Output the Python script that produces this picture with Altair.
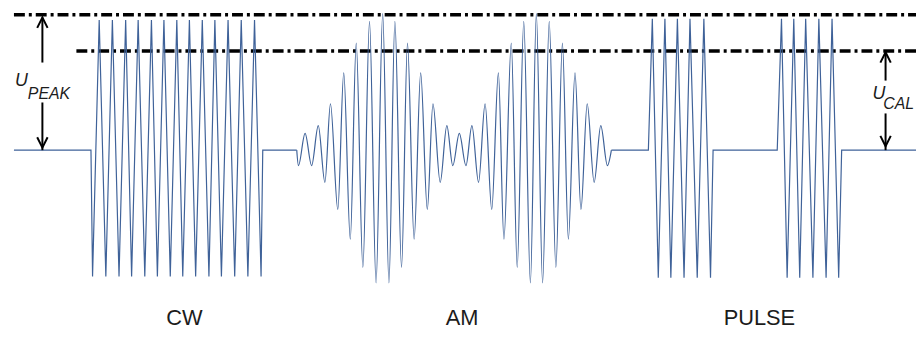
import altair as alt
import pandas as pd

# ---------------- data ----------------
# time axis in arbitrary units, amplitude normalised (0 = rest level)
CW_T = [14, 91.7, 93.3, 100, 106.7, 113.3, 120, 126.7, 132.7, 139.3, 146, 152.7, 158.7,
        165.3, 171.7, 178.3, 184.3, 191, 197.3, 204, 210.7, 216.7, 223.3, 230, 236.7,
        243.3, 250, 256.7, 263.3, 265, 299.3]
CW_A = [0, 0, -0.98, 1.01, -0.98, 1.01, -0.98, 1.01, -0.98, 1.01, -0.98, 1.01, -0.98,
        1.01, -0.98, 1.01, -0.98, 1.01, -0.98, 1.01, -0.98, 1.01, -0.98, 1.01, -0.98,
        1.01, -0.98, 1.01, -0.98, 0, 0]

AM_T = [299.3, 301, 307.7, 314.3, 321, 327.7, 333.3, 340.7, 346.7, 353.3, 359.3, 366,
        372.7, 379.3, 386, 392.3, 398.3, 405, 411, 417.7, 424.3, 431, 436.7, 444, 450.7,
        456.7, 463.3, 470, 476, 482.7, 489.3, 496, 502.7, 508.3, 515.7, 521.7, 528.3,
        535, 541, 547.3, 554, 560.7, 567.3, 573.3, 580, 586, 592.3, 599.3, 606, 612.7, 616.7]
AM_A = [0, -0.12, 0.13, -0.12, 0.19, -0.25, 0.36, -0.46, 0.60, -0.69, 0.83, -0.91,
        1.00, -1.03, 1.06, -1.03, 1.00, -0.91, 0.83, -0.69, 0.60, -0.46, 0.36, -0.25, 0.19,
        -0.12, 0.13, -0.12, 0.19, -0.25, 0.36, -0.46, 0.60, -0.69, 0.83, -0.91, 1.00,
        -1.03, 1.06, -1.03, 1.00, -0.91, 0.83, -0.69, 0.60, -0.46, 0.36, -0.25, 0.19, -0.12, 0]

PULSE_T = [616.7, 654, 658, 664, 670.7, 676.7, 683.3, 690, 696, 703.3, 710, 716.7, 719.3,
           784, 788.3, 794, 800.7, 806.7, 812.7, 820, 826, 833.3, 839.3, 846, 849, 924]
PULSE_A = [0, 0, 1.02, -0.99, 1.02, -0.99, 1.02, -0.99, 1.02, -0.99, 1.02, -0.99, 0,
           0, 1.02, -0.99, 1.02, -0.99, 1.02, -0.99, 1.02, -0.99, 1.02, -0.99, 0, 0]

LEVEL_NAMES = ["U_PEAK", "U_CAL"]
LEVEL_A = [1.05, 0.77]
LEVEL_T0 = [14, 77]
LEVEL_T1 = [924, 924]

SECTION_NAMES = ["CW", "AM", "PULSE"]
SECTION_T = [186, 466, 766]

# ---------------- frames ----------------
lin = pd.DataFrame({
    "t": CW_T + PULSE_T,
    "a": CW_A + PULSE_A,
    "seg": ["cw"] * len(CW_T) + ["pulse"] * len(PULSE_T),
})
am = pd.DataFrame({"t": AM_T, "a": AM_A})
levels = pd.DataFrame({"name": LEVEL_NAMES, "a": LEVEL_A, "t0": LEVEL_T0, "t1": LEVEL_T1})

shafts = pd.DataFrame({
    "t": [42.7, 42.7, 893.3, 893.3],
    "a0": [1.03, 0.0, 0.76, 0.0],
    "a1": [0.68, 0.37, 0.54, 0.285],
})
heads_up = pd.DataFrame({"t": [42.7, 893.3], "a": [1.03, 0.76]})
heads_dn = pd.DataFrame({"t": [42.7, 893.3], "a": [0.02, 0.03]})

labels_main = pd.DataFrame({"t": [15, 880], "a": [0.5, 0.4], "txt": ["U", "U"]})
labels_sub = pd.DataFrame({"t": [28, 891], "a": [0.4, 0.323], "txt": ["PEAK", "CAL"]})
sections = pd.DataFrame({"t": SECTION_T, "a": [-1.355] * 3, "txt": SECTION_NAMES})

# ---------------- scales ----------------
xs = alt.Scale(domain=[8, 924], nice=False, zero=False)
ys = alt.Scale(domain=[-1.3846, 1.0923], nice=False, zero=False)
X = alt.X("t:Q", scale=xs, axis=None)
Y = alt.Y("a:Q", scale=ys, axis=None)

WAVE = "#3f6299"

wave_lin = alt.Chart(lin).mark_line(color=WAVE, strokeWidth=1.2, interpolate="linear").encode(
    x=X, y=Y, detail="seg:N", order="t:Q")
wave_am = alt.Chart(am).mark_line(color=WAVE, strokeWidth=1.2, interpolate="monotone").encode(
    x=X, y=Y, order="t:Q")

lev = alt.Chart(levels).mark_rule(color="black", strokeWidth=3.5, strokeDash=[11, 4, 3, 4]).encode(
    x=alt.X("t0:Q", scale=xs, axis=None), x2="t1:Q", y=Y)

shaft = alt.Chart(shafts).mark_rule(color="black", strokeWidth=2).encode(
    x=X, y=alt.Y("a0:Q", scale=ys, axis=None), y2="a1:Q")

up = alt.Chart(heads_up).mark_point(shape="M-1,2L0,0L1,2", size=110, filled=False,
                                      color="black", strokeWidth=2, opacity=1).encode(x=X, y=Y)
dn = alt.Chart(heads_dn).mark_point(shape="M-1,-2L0,0L1,-2", size=110, filled=False,
                                      color="black", strokeWidth=2, opacity=1).encode(x=X, y=Y)

t_main = alt.Chart(labels_main).mark_text(font="Liberation Sans", fontSize=18, fontStyle="italic",
                                          align="left", baseline="alphabetic", color="#1c1c1c").encode(
    x=X, y=Y, text="txt:N")
t_sub = alt.Chart(labels_sub).mark_text(font="Liberation Sans", fontSize=16, fontStyle="italic",
                                        align="left", baseline="alphabetic", color="#1c1c1c").encode(
    x=X, y=Y, text="txt:N")
t_sec = alt.Chart(sections).mark_text(font="Liberation Sans", fontSize=22,
                                      align="center", baseline="alphabetic", color="#1c1c1c").encode(
    x=X, y=Y, text="txt:N")

chart = alt.layer(lev, wave_lin, wave_am, shaft, up, dn, t_main, t_sub, t_sec).properties(
    width=916, height=322, padding=0,
    autosize=alt.AutoSizeParams(type="none"),
).configure_view(stroke=None)

chart.save("out.html", embed_options={"renderer": "svg", "actions": False})
